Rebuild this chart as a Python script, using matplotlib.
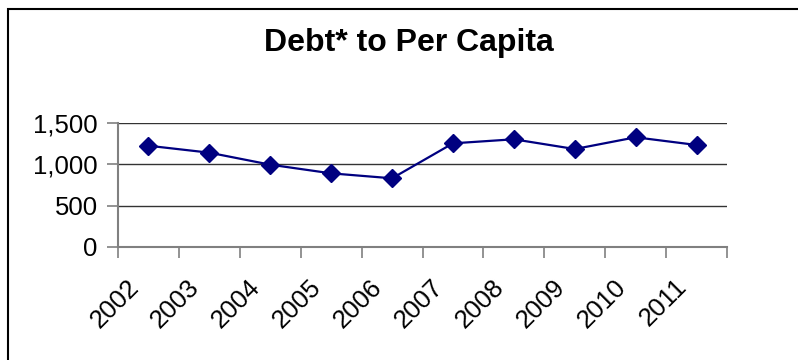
import numpy as np
import matplotlib.pyplot as plt
import matplotlib.transforms as mtransforms
from matplotlib.patches import Rectangle

# values
years = ['2002', '2003', '2004', '2005', '2006', '2007', '2008', '2009', '2010', '2011']
debt_per_capita = [1225, 1141, 996, 891, 831, 1254, 1303, 1185, 1327, 1234]

plt.rcParams['font.family'] = ['Liberation Sans', 'DejaVu Sans']

fig = plt.figure(figsize=(7.98, 3.6), dpi=100)
ax = fig.add_axes([118/798, 1 - 247/360, (727 - 118)/798, 124/360])

# outer chart border (runs off the right and bottom edges)
fig.patches.append(Rectangle((8/798, -0.1), 1.2, 1.1 - 9.5/360, transform=fig.transFigure,
                             fill=False, edgecolor='black', linewidth=1.5))

x = np.arange(len(years))
ax.plot(x, debt_per_capita, color='#000080', linewidth=1.6, marker='D', markersize=9,
        markerfacecolor='#000080', markeredgecolor='#000080')

ax.set_xlim(-0.5, len(years) - 0.5)
ax.set_ylim(0, 1500)
ax.set_yticks([0, 500, 1000, 1500])
ax.set_yticklabels(['0', '500', '1,000', '1,500'], fontsize=18.5)
ax.grid(axis='y', color='#333333', linewidth=1)
ax.set_axisbelow(True)

ax.set_xticks(x)
ax.set_xticklabels(years, fontsize=18.5, rotation=45, ha='right', va='top', rotation_mode='anchor')
ax.set_xticks(np.arange(len(years) + 1) - 0.5, minor=True)
ax.tick_params(axis='x', which='major', length=0, pad=20)
ax.tick_params(axis='x', which='minor', length=8, width=1.2, color='#808080')
ax.tick_params(axis='y', length=8, width=1.2, color='#808080', pad=6.5)
shift = mtransforms.ScaledTranslation(-22/100, 0, fig.dpi_scale_trans)
for lbl in ax.get_xticklabels():
    lbl.set_transform(lbl.get_transform() + shift)

for s in ['top', 'right']:
    ax.spines[s].set_visible(False)
for s in ['left', 'bottom']:
    ax.spines[s].set_color('#808080')
    ax.spines[s].set_linewidth(1.5)

fig.text(409/798, 1 - 43/360, 'Debt* to Per Capita', fontsize=23, fontweight='bold',
         ha='center', va='center')

fig.savefig('out.png', dpi=100)
